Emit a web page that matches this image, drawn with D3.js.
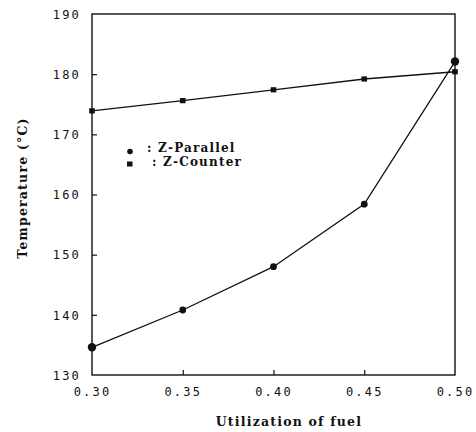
<!DOCTYPE html>
<html>
<head>
<meta charset="utf-8">
<script src="https://cdn.jsdelivr.net/npm/d3@7"></script>
<style>
  html, body { margin: 0; padding: 0; background: #fff; }
  svg { display: block; }
  .tick text { font-family: "DejaVu Sans Mono", monospace; font-size: 12px; letter-spacing: 2.2px; fill: #111; }
  .title { font-family: "DejaVu Serif", "Liberation Serif", serif; font-weight: bold; font-size: 12.5px; fill: #111; letter-spacing: 1.2px; }
  .legend { font-family: "DejaVu Serif", "Liberation Serif", serif; font-weight: bold; font-size: 12px; fill: #111; letter-spacing: 1.2px; }
</style>
</head>
<body>
<script>
// Fuel utilization on the x axis
const utilization = [0.30, 0.35, 0.40, 0.45, 0.50];
// Outlet temperature (°C) for each flow arrangement
const zParallel = [134.6, 140.8, 148.0, 158.4, 182.1];
const zCounter  = [173.9, 175.6, 177.4, 179.2, 180.4];
const xTickLabels = ["0.30", "0.35", "0.40", "0.45", "0.50"];
const yTickValues = [130, 140, 150, 160, 170, 180, 190];

const W = 476, H = 432;
const margin = { left: 92, right: 21, top: 14, bottom: 57 };

const svg = d3.select("body").append("svg")
  .attr("width", W).attr("height", H);

const x = d3.scaleLinear().domain([0.30, 0.50]).range([margin.left, W - margin.right]);
const y = d3.scaleLinear().domain([130, 190]).range([H - margin.bottom, margin.top]);

// Frame
svg.append("rect")
  .attr("x", x(0.30)).attr("y", y(190))
  .attr("width", x(0.50) - x(0.30)).attr("height", y(130) - y(190))
  .attr("fill", "none").attr("stroke", "#111").attr("stroke-width", 1.4);

// Y axis: short ticks pointing into the plot
const yAxis = d3.axisLeft(y).tickValues(yTickValues).tickFormat(d3.format("d"))
  .tickSizeInner(-5).tickSizeOuter(0).tickPadding(11);
const gy = svg.append("g").attr("transform", `translate(${x(0.30)},0)`).call(yAxis);
gy.select(".domain").remove();
gy.selectAll(".tick line").attr("stroke", "#111").attr("stroke-width", 1.2)
  .filter(d => d === 130 || d === 190).remove();
gy.selectAll(".tick text").attr("dy", "0.35em");

// X axis: short upward ticks
const xAxis = d3.axisBottom(x).tickValues(utilization)
  .tickFormat((d, i) => xTickLabels[i])
  .tickSizeInner(-5).tickSizeOuter(0).tickPadding(12);
const gx = svg.append("g").attr("transform", `translate(0,${y(130)})`).call(xAxis);
gx.select(".domain").remove();
gx.selectAll(".tick line").attr("stroke", "#111").attr("stroke-width", 1.2)
  .filter((d, i) => i === 0 || i === utilization.length - 1).remove();

// Lines
const line = d3.line().x(d => x(d[0])).y(d => y(d[1]));
const parPts = utilization.map((u, i) => [u, zParallel[i]]);
const cntPts = utilization.map((u, i) => [u, zCounter[i]]);

svg.append("path").datum(cntPts).attr("d", line)
  .attr("fill", "none").attr("stroke", "#111").attr("stroke-width", 1.3);
svg.append("path").datum(parPts).attr("d", line)
  .attr("fill", "none").attr("stroke", "#111").attr("stroke-width", 1.3);

// Markers
svg.selectAll("rect.cnt").data(cntPts).enter().append("rect")
  .attr("class", "cnt")
  .attr("x", d => x(d[0]) - 2.8).attr("y", d => y(d[1]) - 2.6)
  .attr("width", 5.6).attr("height", 5.2).attr("fill", "#111");

svg.selectAll("circle.par").data(parPts).enter().append("circle")
  .attr("class", "par")
  .attr("cx", d => x(d[0])).attr("cy", d => y(d[1]))
  .attr("r", (d, i) => (i === 0 || i === parPts.length - 1) ? 4.2 : 3.4)
  .attr("fill", "#111");

// Legend
svg.append("circle").attr("cx", 130).attr("cy", 151.5).attr("r", 2.8).attr("fill", "#111");
svg.append("rect").attr("x", 127).attr("y", 161.5).attr("width", 5.5).attr("height", 5).attr("fill", "#111");
svg.append("text").attr("class", "legend").attr("x", 147).attr("y", 152).text(": Z-Parallel");
svg.append("text").attr("class", "legend").attr("x", 152).attr("y", 166).text(": Z-Counter");

// Axis titles
svg.append("text").attr("class", "title")
  .attr("x", 289).attr("y", 426).attr("text-anchor", "middle")
  .text("Utilization of fuel");
svg.append("text").attr("class", "title")
  .attr("transform", "translate(27,188) rotate(-90)")
  .attr("text-anchor", "middle")
  .text("Temperature (°C)");
</script>
</body>
</html>
